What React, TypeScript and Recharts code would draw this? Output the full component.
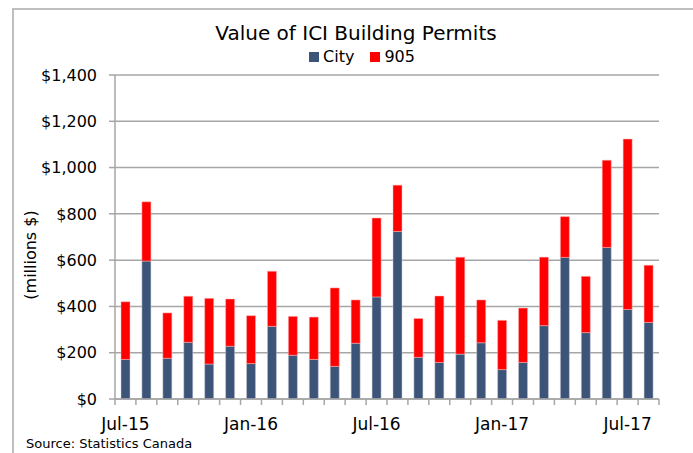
import React from 'react'
import { BarChart, Bar, XAxis, YAxis, CartesianGrid, Label } from 'recharts'

const months = [
  'Jul-15', 'Aug-15', 'Sep-15', 'Oct-15', 'Nov-15', 'Dec-15',
  'Jan-16', 'Feb-16', 'Mar-16', 'Apr-16', 'May-16', 'Jun-16',
  'Jul-16', 'Aug-16', 'Sep-16', 'Oct-16', 'Nov-16', 'Dec-16',
  'Jan-17', 'Feb-17', 'Mar-17', 'Apr-17', 'May-17', 'Jun-17',
  'Jul-17', 'Aug-17'
]

// millions $
const cityValues = [
  171, 596, 176, 245, 151, 228, 153, 314, 189, 171, 141, 241, 441,
  724, 180, 158, 194, 243, 127, 158, 317, 612, 287, 655, 387, 331
]

const region905Values = [
  249, 256, 196, 199, 284, 204, 207, 238, 168, 183, 339, 187, 341,
  200, 168, 287, 419, 185, 213, 235, 296, 176, 243, 377, 736, 247
]

const yTicks = [0, 200, 400, 600, 800, 1000, 1200, 1400]

const data = months.map((m, i) => ({
  month: m,
  city: cityValues[i],
  r905: region905Values[i]
}))

const FONT = '"DejaVu Sans", sans-serif'
const AXIS = '#a6a6a6'
const CITY = '#3c5478'
const RED = '#ff0000'

const fmtDollar = (v: number) => '$' + v.toLocaleString('en-US')

function MonthTick(props: any) {
  const { x, y, payload, index, width } = props
  const bw = width / months.length
  const label = payload.value as string
  const show = label.startsWith('Jul') || label.startsWith('Jan')
  return (
    <g>
      <line x1={x - bw / 2} y1={y} x2={x - bw / 2} y2={y + 6} stroke={AXIS} strokeWidth={1.5} />
      {index === months.length - 1 && (
        <line x1={x + bw / 2} y1={y} x2={x + bw / 2} y2={y + 6} stroke={AXIS} strokeWidth={1.5} />
      )}
      {show && (
        <text x={x} y={y + 31} textAnchor="middle" fontSize={17} fill="#000">
          {label}
        </text>
      )}
    </g>
  )
}

export default function App() {
  return (
    <div style={{ position: 'absolute', left: 0, top: 0, width: 693, height: 453, background: '#fff', fontFamily: FONT, overflow: 'hidden' }}>
      <div style={{ position: 'absolute', left: 12, top: 8, width: 700, height: 460, borderTop: '2px solid #bfbfbf', borderLeft: '2px solid #bfbfbf' }} />
      <div style={{ position: 'absolute', left: 0, top: 21, width: 712, textAlign: 'center', fontSize: 20, color: '#000' }}>
        Value of ICI Building Permits
      </div>
      <div style={{ position: 'absolute', left: 0, top: 47, width: 724, display: 'flex', justifyContent: 'center', alignItems: 'center', fontSize: 16, color: '#000' }}>
        <span style={{ display: 'inline-block', width: 10, height: 10, background: CITY, marginRight: 4 }} />
        <span style={{ marginRight: 16 }}>City</span>
        <span style={{ display: 'inline-block', width: 10, height: 10, background: RED, marginRight: 4 }} />
        <span>905</span>
      </div>
      <BarChart
        width={693}
        height={453}
        data={data}
        margin={{ top: 75, right: 34, bottom: 24, left: 0 }}
        barSize={9}
        style={{ position: 'absolute', left: 0, top: 0 }}
      >
        <CartesianGrid vertical={false} stroke={AXIS} strokeWidth={1.5} />
        <XAxis
          dataKey="month"
          interval={0}
          height={30}
          axisLine={{ stroke: AXIS, strokeWidth: 1.5 }}
          tickLine={false}
          tickSize={0}
          tickMargin={0}
          tick={<MonthTick />}
        />
        <YAxis
          width={115}
          domain={[0, 1400]}
          ticks={yTicks}
          tickFormatter={fmtDollar}
          axisLine={{ stroke: AXIS, strokeWidth: 1.5 }}
          tickLine={{ stroke: AXIS, strokeWidth: 1.5 }}
          tickSize={6}
          tickMargin={12}
          tick={{ fill: '#000', fontSize: 16 }}
          interval={0}
        >
          <Label value="(millions $)" angle={-90} position="insideLeft" offset={30} dy={18} style={{ fill: '#000', fontSize: 16, textAnchor: 'middle' }} />
        </YAxis>
        <Bar dataKey="city" stackId="a" fill={CITY} stroke="#c8ccd8" strokeWidth={0.5} isAnimationActive={false} />
        <Bar dataKey="r905" stackId="a" fill={RED} stroke="#ffb0b0" strokeWidth={0.5} isAnimationActive={false} />
      </BarChart>
      <div style={{ position: 'absolute', left: 26, top: 436, fontSize: 13, color: '#000' }}>
        Source: Statistics Canada
      </div>
    </div>
  )
}
